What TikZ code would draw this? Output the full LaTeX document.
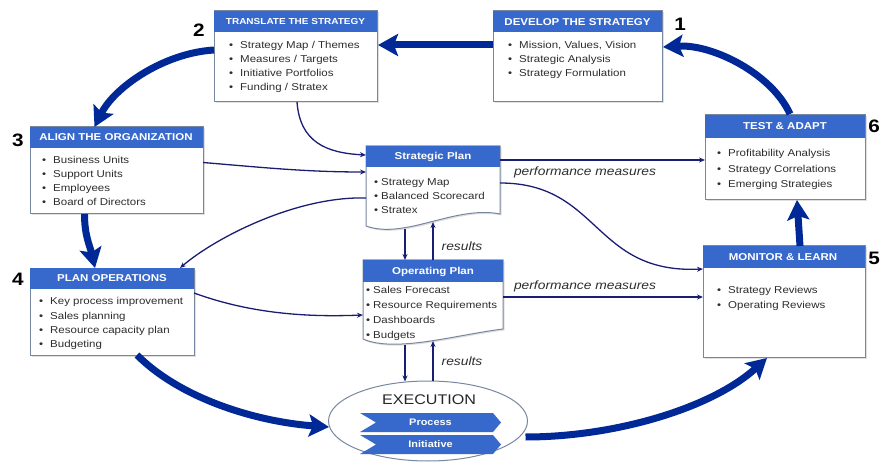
\documentclass[tikz,border=0pt]{standalone}
\usepackage{fontspec}
\setmainfont{Liberation Sans}[FakeStretch=1.15]
\usetikzlibrary{arrows.meta,calc,shapes.geometric,shadows}

\definecolor{hdrblue}{RGB}{55,105,205}
\definecolor{flow}{RGB}{0,40,150}
\definecolor{link}{RGB}{25,30,115}
\definecolor{frame}{RGB}{120,135,160}
\definecolor{ink}{RGB}{45,45,45}

\newcommand{\bl}{\makebox[11pt][l]{\textbullet}}
\newcommand{\sbl}{\makebox[7pt][l]{\textbullet}}
\newcommand{\rows}[1]{\begin{tabular}[t]{@{}l@{}}#1\end{tabular}}

\tikzset{
  panel/.style={draw=frame, line width=1pt, fill=white, inner sep=0pt, outer sep=0pt,
    drop shadow={opacity=0.25, shadow xshift=1.5pt, shadow yshift=-1.5pt}},
  anchorbox/.style={inner sep=0pt, outer sep=0pt},
  hdr/.style={fill=hdrblue},
  hdrtxt/.style={text=white, font=\fontsize{10}{12}\selectfont\bfseries, inner sep=0pt},
  body/.style={text=ink, font=\fontsize{10}{14}\selectfont, inner sep=0pt, anchor=base west},
  bigflow/.style={draw=flow, line width=7pt, -{Stealth[length=20pt,width=22pt,inset=4pt]}},
  linkarrow/.style={draw=link, line width=1.3pt, -{Stealth[length=6pt,width=5pt]}},
  num/.style={font=\fontsize{18}{20}\selectfont\bfseries, inner sep=0pt, text=black},
  lbl/.style={font=\fontsize{12}{14}\selectfont\itshape, text=ink, inner sep=0pt},
  doc/.style={draw=frame, line width=1pt, fill=white},
}

\begin{document}
\begin{tikzpicture}[x=1pt, y=-1pt]
\useasboundingbox (0,0) rectangle (881,465);

% ---------- six stage panels ----------
\node[panel, minimum width=169pt, minimum height=91pt] (dev) at (577.5,56.5) {};
\node[panel, minimum width=163pt, minimum height=91pt] (tr)  at (295.5,56.5) {};
\node[panel, minimum width=173pt, minimum height=87pt] (al)  at (116.5,170.5) {};
\node[panel, minimum width=164pt, minimum height=87pt] (po)  at (112,311.5) {};
\node[panel, minimum width=160pt, minimum height=85pt] (ta)  at (785,157.5) {};
\node[panel, minimum width=162pt, minimum height=111pt] (ml) at (784,301.5) {};

\fill[hdr] (dev.north west) rectangle ($(dev.north east)+(0,21)$);
\fill[hdr] (tr.north west)  rectangle ($(tr.north east)+(0,21)$);
\fill[hdr] (al.north west)  rectangle ($(al.north east)+(0,21)$);
\fill[hdr] (po.north west)  rectangle ($(po.north east)+(0,21)$);
\fill[hdr] (ta.north west)  rectangle ($(ta.north east)+(0,23)$);
\fill[hdr] (ml.north west)  rectangle ($(ml.north east)+(0,22)$);

\node[hdrtxt] (devh) at (577.5,22) {DEVELOP THE STRATEGY};
\node[hdrtxt, font=\fontsize{8.7}{10}\selectfont\bfseries] (trh) at (295.5,21.5) {TRANSLATE THE STRATEGY};
\node[hdrtxt] (alh) at (116,137.5) {ALIGN THE ORGANIZATION};
\node[hdrtxt] (poh) at (112,278) {PLAN OPERATIONS};
\node[hdrtxt] (tah) at (785,126.5) {TEST \& ADAPT};
\node[hdrtxt] (mlh) at (783,257) {MONITOR \& LEARN};

\node[body] (devb) at (508,49) {\rows{\bl Mission, Values, Vision\\ \bl Strategic Analysis\\ \bl Strategy Formulation}};
\node[body] (trb) at (229,49) {\rows{\bl Strategy Map / Themes\\ \bl Measures / Targets\\ \bl Initiative Portfolios\\ \bl Funding / Stratex}};
\node[body] (alb) at (42,164) {\rows{\bl Business Units\\ \bl Support Units\\ \bl Employees\\ \bl Board of Directors}};
\node[body, font=\fontsize{10}{14.3}\selectfont] (pob) at (39,305) {\rows{\bl Key process improvement\\ \bl Sales planning\\ \bl Resource capacity plan\\ \bl Budgeting}};
\node[body, font=\fontsize{10}{15.5}\selectfont] (tab) at (717,157) {\rows{\bl Profitability Analysis\\ \bl Strategy Correlations\\ \bl Emerging Strategies}};
\node[body, font=\fontsize{10}{15}\selectfont] (mlb) at (717,293) {\rows{\bl Strategy Reviews\\ \bl Operating Reviews}};

% stage numbers
\node[num] (n1) at (680,24) {1};
\node[num] (n2) at (199,30) {2};
\node[num] (n3) at (18,140) {3};
\node[num] (n4) at (18,279) {4};
\node[num] (n5) at (874,258) {5};
\node[num] (n6) at (874,126) {6};

% ---------- plan documents ----------
\node[anchorbox, minimum width=134pt, minimum height=82pt] (sp) at (433,187) {};
\node[anchorbox, minimum width=140pt, minimum height=83pt] (op) at (433,301.5) {};

\path[doc, drop shadow={opacity=0.25, shadow xshift=1.5pt, shadow yshift=-1.5pt}]
  (sp.north west) -- (sp.north east) -- (500,214)
  .. controls (455,205) and (405,240) .. (366,226) -- cycle;
\fill[hdr] (sp.north west) rectangle ($(sp.north east)+(0,21)$);
\node[hdrtxt] (sph) at (433,157) {Strategic Plan};
\node[body] (spb) at (374,186) {\rows{\sbl Strategy Map\\ \sbl Balanced Scorecard\\ \sbl Stratex}};

\path[doc, drop shadow={opacity=0.25, shadow xshift=1.5pt, shadow yshift=-1.5pt}]
  (op.north west) -- (op.north east) -- (503,329)
  .. controls (455,335) and (395,353) .. (363,339) -- cycle;
\fill[hdr] (op.north west) rectangle ($(op.north east)+(0,22)$);
\node[hdrtxt] (oph) at (433,272) {Operating Plan};
\node[body, font=\fontsize{10}{14.7}\selectfont] (opb) at (366,294) {\rows{\sbl Sales Forecast\\ \sbl Resource Requirements\\ \sbl Dashboards\\ \sbl Budgets}};

% ---------- execution ----------
\node[ellipse, draw=frame, line width=1pt, fill=white, minimum width=199pt, minimum height=80pt, inner sep=0pt] (ex) at (428,421) {};
\node[inner sep=0pt, font=\fontsize{14}{16}\selectfont, text=black!85] (exl) at (429,400) {EXECUTION};
\fill[hdrblue] (360,413) -- (493,413) -- (501,422.5) -- (493,432) -- (360,432) -- (376,422.5) -- cycle;
\fill[hdrblue] (360,435) -- (493,435) -- (501,444.5) -- (493,454) -- (360,454) -- (376,444.5) -- cycle;
\node[hdrtxt, font=\fontsize{9.5}{11}\selectfont\bfseries] (proc) at (430.5,422.5) {Process};
\node[hdrtxt, font=\fontsize{9.5}{11}\selectfont\bfseries] (init) at (430.5,444.5) {Initiative};

% ---------- main cycle ----------
\draw[bigflow] ($(ta.north)+(5,-1)$) .. controls +(-18,-40) and +(50,-3) .. ($(dev.east)+(1,-9.5)$);
\draw[bigflow] ($(dev.west)+(0,-11.5)$) -- ($(tr.east)+(1,-11.5)$);
\draw[bigflow] ($(tr.west)+(0,-6.5)$) .. controls +(-50,3) and +(20,-40) .. ($(al.north)+(-22,0)$);
\draw[bigflow] ($(al.south)+(-32,0)$) .. controls +(0,22) and +(-5,-22) .. ($(po.north)+(-17,0)$);
\draw[bigflow] ($(po.south)+(25,0)$) .. controls +(45,45) and +(-70,-5) .. ($(ex.west)+(1,6)$);
\draw[bigflow] ($(ex.east)+(-2.5,16)$) .. controls +(90,0) and +(-55,50) .. ($(ml.south)+(-17,1)$);
\draw[bigflow] ($(ml.north)+(16,0)$) -- ($(ta.south)+(12,0)$);

% ---------- plan links ----------
\draw[linkarrow] ($(tr.south)+(1.5,0)$) .. controls +(3,40) and +(-40,-2) .. ($(sp.north west)+(0,9)$);
\draw[linkarrow] ($(al.east)+(0,-8)$) .. controls +(60,5) and +(-60,0) .. ($(sp.north west)+(0,26)$);
\draw[linkarrow] ($(sp.west)+(0,11)$) .. controls +(-70,-2) and +(35,-30) .. ($(po.north east)+(-14,0)$);
\draw[linkarrow] ($(po.east)+(0,-18.5)$) .. controls +(60,22) and +(-50,2) .. ($(op.west)+(0,13.5)$);
\draw[linkarrow] ($(sp.north east)+(0,14)$) -- ($(ta.west)+(0,2.5)$);
\draw[linkarrow] ($(sp.east)+(0,-4)$) .. controls +(100,0) and +(-110,5) .. ($(ml.west)+(0,-32.5)$);
\draw[linkarrow] ($(op.east)+(0,-4.5)$) -- ($(ml.west)+(0,-4.5)$);

\draw[linkarrow] ($(sp.south)+(-28,1)$) -- ($(op.north)+(-28,0)$);
\draw[linkarrow] ($(op.north)+(0,0)$) -- ($(sp.south)+(0,-6)$);
\draw[linkarrow] ($(op.south)+(-28,2)$) -- ($(ex.north)+(-23,1)$);
\draw[linkarrow] ($(ex.north)+(5,0)$) -- ($(op.south)+(0,-2)$);

\node[lbl] (pm1) at (585,172) {performance measures};
\node[lbl] (pm2) at (585,286) {performance measures};
\node[lbl] (rs1) at (462,246) {results};
\node[lbl] (rs2) at (462,361) {results};
\end{tikzpicture}
\end{document}
